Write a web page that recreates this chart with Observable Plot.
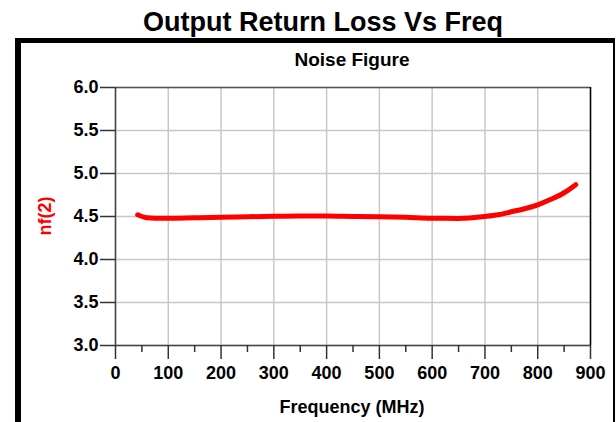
<!DOCTYPE html>
<html>
<head>
<meta charset="utf-8">
<script src="https://cdn.jsdelivr.net/npm/d3@7"></script>
<script src="https://cdn.jsdelivr.net/npm/@observablehq/plot@0.6"></script>
<style>
  html, body { margin: 0; padding: 0; background: #fff; }
  body { width: 616px; height: 422px; position: relative; overflow: hidden;
         font-family: "Liberation Sans", Arial, sans-serif; font-weight: bold; }
  .abs { position: absolute; white-space: nowrap; line-height: 1; }
  #frame { position: absolute; left: 15px; top: 38px; width: 600px; height: 420px;
           box-sizing: border-box; border-left: 6px solid #000; border-top: 5px solid #000;
           border-right: 2px solid #000; }
  #chart { position: absolute; left: 0; top: 0; }
</style>
</head>
<body>
<div id="frame"></div>
<div class="abs" id="title" style="left:0;width:646px;text-align:center;top:9px;font-size:27px;color:#000;">Output Return Loss Vs Freq</div>
<div class="abs" id="sub" style="left:0;width:704px;text-align:center;top:50px;font-size:19px;color:#000;">Noise Figure</div>
<div class="abs" id="xlab" style="left:0;width:704px;text-align:center;top:398px;font-size:18px;color:#000;">Frequency (MHz)</div>
<div class="abs" id="ylab" style="left:45px;top:216px;font-size:18px;color:#ff0000;transform:translate(-50%,-50%) rotate(-90deg);">nf(2)</div>
<div id="chart"></div>
<script>
// Frequency (MHz)
const freq = [42, 50, 60, 75, 100, 150, 200, 250, 300, 350, 400, 450, 500, 550, 600, 650, 700, 725, 750, 775, 800, 825, 850, 872];
// Noise figure nf(2)
const nf = [4.52, 4.50, 4.485, 4.48, 4.48, 4.485, 4.49, 4.497, 4.503, 4.506, 4.505, 4.50, 4.497, 4.49, 4.48, 4.478, 4.50, 4.52, 4.555, 4.59, 4.636, 4.70, 4.776, 4.87];
const xTicks = [0, 100, 200, 300, 400, 500, 600, 700, 800, 900];
const xMinorTicks = [50, 150, 250, 350, 450, 550, 650, 750, 850];
const yTicks = [3.0, 3.5, 4.0, 4.5, 5.0, 5.5, 6.0];

const data = freq.map((f, i) => ({f, nf: nf[i]}));
const gridStyle = {stroke: "#c8c8c8", strokeOpacity: 1, strokeWidth: 1.5};

const chart = Plot.plot({
  width: 616,
  height: 422,
  marginLeft: 115,
  marginRight: 26,
  marginTop: 87,
  marginBottom: 77,
  style: {fontFamily: '"Liberation Sans", Arial, sans-serif', fontSize: "18px", fontWeight: "bold", color: "#000", background: "transparent", overflow: "visible"},
  x: {domain: [0, 900]},
  y: {domain: [3, 6]},
  marks: [
    Plot.gridX(xTicks, gridStyle),
    Plot.gridY(yTicks, gridStyle),
    Plot.ruleY([6], {stroke: "#555", strokeWidth: 1.5}),
    Plot.ruleX([900], {stroke: "#000", strokeWidth: 1.5}),
    Plot.ruleX([0], {stroke: "#444", strokeWidth: 1.5}),
    Plot.ruleY([3], {stroke: "#444", strokeWidth: 1.5}),
    Plot.axisX({ticks: xMinorTicks, tickSize: 7, tickFormat: () => "", stroke: "#333", strokeWidth: 1.5, label: null}),
    Plot.axisX({ticks: xTicks, tickSize: 14, tickPadding: 7, tickFormat: d => String(d), stroke: "#333", strokeWidth: 1.5, label: null}),
    Plot.axisY({ticks: yTicks, tickSize: 15, tickPadding: 2, tickFormat: d => d.toFixed(1), stroke: "#333", strokeWidth: 1.5, label: null}),
    Plot.line(data, {x: "f", y: "nf", stroke: "#ff0000", strokeWidth: 5, curve: "monotone-x", strokeLinejoin: "round"})
  ]
});
document.getElementById("chart").appendChild(chart);
</script>
</body>
</html>
